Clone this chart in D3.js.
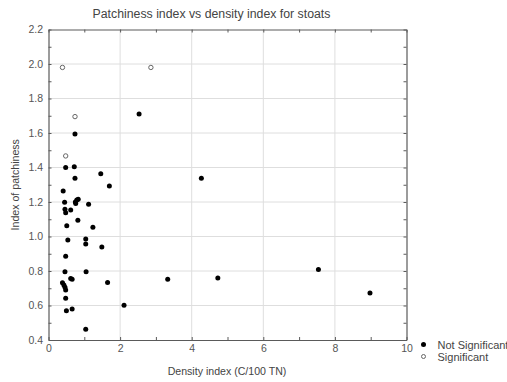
<!DOCTYPE html>
<html>
<head>
<meta charset="utf-8">
<script src="https://cdn.jsdelivr.net/npm/d3@7"></script>
<style>
  html, body { margin: 0; padding: 0; background: #fff; }
  svg { display: block; font-family: "Liberation Sans", Arial, sans-serif; }
</style>
</head>
<body>
<svg id="chart" width="507" height="382"></svg>
<script>
// Density index (C/100 TN) and index of patchiness for each site
const notSigX = [2.53, 0.74, 0.48, 0.72, 1.46, 0.74, 1.70, 0.41, 0.45, 0.75, 0.79, 0.83, 0.76,
                 1.12, 0.46, 0.48, 0.62, 0.82, 0.51, 1.24, 0.54, 1.04, 1.04, 1.49, 0.48, 0.46,
                 1.05, 0.62, 0.66, 0.39, 0.43, 0.46, 0.48, 1.65, 3.33, 0.48, 2.11, 0.50, 0.66,
                 1.04, 4.27, 4.73, 7.54, 8.98];
const notSigY = [1.71, 1.594, 1.40, 1.405, 1.364, 1.337, 1.293, 1.264, 1.198, 1.20, 1.212, 1.216, 1.192,
                 1.187, 1.158, 1.138, 1.154, 1.094, 1.063, 1.053, 0.98, 0.985, 0.956, 0.939, 0.885, 0.796,
                 0.795, 0.757, 0.752, 0.732, 0.719, 0.706, 0.690, 0.734, 0.752, 0.642, 0.601, 0.57, 0.58,
                 0.462, 1.337, 0.759, 0.808, 0.672];
const sigX = [0.39, 2.86, 0.74, 0.48];
const sigY = [1.98, 1.98, 1.695, 1.467];

const xTicks = [0, 2, 4, 6, 8, 10];
const yTicks = [0.4, 0.6, 0.8, 1.0, 1.2, 1.4, 1.6, 1.8, 2.0, 2.2];
const legendLabels = ["Not Significant", "Significant"];

const svg = d3.select("#chart");
const plot = { left: 48.5, right: 406.5, top: 29.5, bottom: 340 };

const x = d3.scaleLinear().domain([0, 10]).range([plot.left, plot.right]);
const y = d3.scaleLinear().domain([0.4, 2.2]).range([plot.bottom, plot.top]);

const textColor = "#555";
const axisColor = "#5a5a5a";

// grid lines at the labelled ticks
svg.append("g").selectAll("line").data(xTicks.slice(1, -1)).join("line")
  .attr("x1", d => x(d)).attr("x2", d => x(d)).attr("y1", plot.top).attr("y2", plot.bottom)
  .attr("stroke", "#dedede").attr("stroke-width", 1);
svg.append("g").selectAll("line").data(yTicks.slice(1, -1)).join("line")
  .attr("y1", d => y(d)).attr("y2", d => y(d)).attr("x1", plot.left).attr("x2", plot.right)
  .attr("stroke", "#dedede").attr("stroke-width", 1);

// axes: inward ticks on all four sides, labels on left and bottom
const xMinor = d3.range(0, 10.01, 1);
const yMinor = d3.range(0, 19).map(i => +(0.4 + i * 0.1).toFixed(1));

const gBottom = svg.append("g").attr("transform", `translate(0,${plot.bottom})`)
  .call(d3.axisBottom(x).tickValues(xMinor).tickSizeInner(-3).tickSizeOuter(0)
    .tickFormat(d => xTicks.includes(d) ? d3.format("d")(d) : ""));
const gTop = svg.append("g").attr("transform", `translate(0,${plot.top})`)
  .call(d3.axisTop(x).tickValues(xMinor).tickSizeInner(-3).tickSizeOuter(0).tickFormat(""));
const gLeft = svg.append("g").attr("transform", `translate(${plot.left},0)`)
  .call(d3.axisLeft(y).tickValues(yMinor).tickSizeInner(-3).tickSizeOuter(0)
    .tickFormat(d => yTicks.some(t => Math.abs(t - d) < 1e-6) ? d3.format(".1f")(d) : ""));
const gRight = svg.append("g").attr("transform", `translate(${plot.right},0)`)
  .call(d3.axisRight(y).tickValues(yMinor).tickSizeInner(-3).tickSizeOuter(0).tickFormat(""));

[gBottom, gTop, gLeft, gRight].forEach(g => {
  g.select(".domain").attr("stroke", axisColor).attr("stroke-width", 1.2);
  g.selectAll(".tick line").attr("stroke", axisColor);
  g.selectAll("text").attr("fill", textColor).attr("font-size", 10.5)
    .attr("font-family", "Liberation Sans, Arial, sans-serif");
});
gBottom.selectAll("text").attr("dy", "0.71em").attr("y", 5);
gLeft.selectAll("text").attr("x", -5.5);

// points
svg.append("g").selectAll("circle").data(notSigX.map((d, i) => [d, notSigY[i]])).join("circle")
  .attr("cx", d => x(d[0])).attr("cy", d => y(d[1])).attr("r", 2.5)
  .attr("fill", "#000");
svg.append("g").selectAll("circle").data(sigX.map((d, i) => [d, sigY[i]])).join("circle")
  .attr("cx", d => x(d[0])).attr("cy", d => y(d[1])).attr("r", 2.2)
  .attr("fill", "#fff").attr("stroke", "#666").attr("stroke-width", 1);

// titles
svg.append("text").attr("x", 211.5).attr("y", 17.5).attr("text-anchor", "middle")
  .attr("font-size", 12.3).attr("fill", "#444").text("Patchiness index vs density index for stoats");
svg.append("text").attr("x", 227).attr("y", 375).attr("text-anchor", "middle")
  .attr("font-size", 10.6).attr("fill", "#444").text("Density index (C/100 TN)");
svg.append("text").attr("transform", `translate(19,${(plot.top + plot.bottom) / 2}) rotate(-90)`)
  .attr("text-anchor", "middle").attr("font-size", 10.6).attr("fill", "#444").text("Index of patchiness");

// legend
const legend = svg.append("g").attr("transform", "translate(423.5,344.5)");
legendLabels.forEach((label, i) => {
  const row = legend.append("g").attr("transform", `translate(0,${i * 12})`);
  if (i === 0) row.append("circle").attr("r", 2.5).attr("fill", "#000");
  else row.append("circle").attr("r", 2).attr("fill", "#fff").attr("stroke", "#666");
  row.append("text").attr("x", 14).attr("y", 4).attr("font-size", 11)
    .attr("fill", "#444").text(label);
});
</script>
</body>
</html>
